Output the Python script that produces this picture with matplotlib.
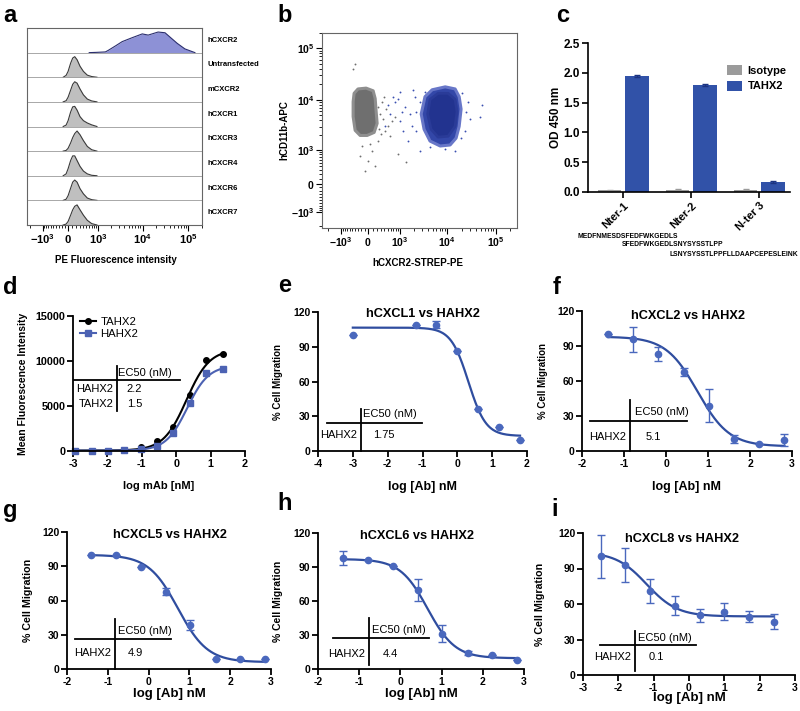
import numpy as np
import matplotlib
matplotlib.use('Agg')
import matplotlib.pyplot as plt
from matplotlib.lines import Line2D

plt.rcParams['font.family'] = ['Liberation Sans', 'DejaVu Sans']
plt.rcParams['font.weight'] = 'bold'
plt.rcParams['axes.unicode_minus'] = False
plt.rcParams['mathtext.fontset'] = 'custom'
plt.rcParams['mathtext.rm'] = 'Liberation Sans:bold'
plt.rcParams['mathtext.bf'] = 'Liberation Sans:bold'
plt.rcParams['mathtext.it'] = 'Liberation Sans:bold'

# ------------------------------------------------------------------ data
# panel a: flow histograms (relative heights at PE intensities)
A_ROWS = ['hCXCR2', 'Untransfected', 'mCXCR2', 'hCXCR1', 'hCXCR3', 'hCXCR4', 'hCXCR6', 'hCXCR7']
A_BLUE_X = [600, 900, 1500, 1760, 2600, 3570, 5960, 9850, 13300, 21900, 31000, 57100, 84300, 140000]
A_BLUE_H = [0.0, 0.01, 0.03, 0.10, 0.30, 0.47, 0.64, 0.80, 0.75, 0.88, 0.85, 0.40, 0.16, 0.0]
A_GRAY_X = [-150, -60, 0, 60, 110, 160, 220, 300, 400, 530, 700, 950]
A_GRAY_H = [
    [0, 0.08, 0.25, 0.60, 0.82, 0.88, 0.75, 0.47, 0.25, 0.09, 0.03, 0],
    [0, 0.05, 0.20, 0.50, 0.75, 0.86, 0.80, 0.55, 0.30, 0.12, 0.04, 0],
    [0, 0.06, 0.25, 0.62, 0.84, 0.86, 0.70, 0.42, 0.25, 0.15, 0.07, 0],
    [0, 0.03, 0.12, 0.35, 0.58, 0.75, 0.86, 0.70, 0.45, 0.20, 0.06, 0],
    [0, 0.08, 0.30, 0.65, 0.85, 0.85, 0.65, 0.40, 0.20, 0.08, 0.02, 0],
    [0, 0.05, 0.20, 0.52, 0.78, 0.87, 0.78, 0.50, 0.28, 0.10, 0.03, 0],
    [0, 0.04, 0.15, 0.42, 0.65, 0.80, 0.86, 0.65, 0.42, 0.20, 0.06, 0],
]

# panel b: event clouds (outlines) and sparse events
B_GRAY_OUT_X = [-430, -300, -58, 113, 160, 183, 207, 136, -29, -234, -395, -465, -465]
B_GRAY_OUT_Y = [13400, 16300, 16900, 15000, 10600, 5880, 3470, 2300, 2000, 2000, 2530, 4710, 9200]
B_BLUE_OUT_X = [3480, 4900, 9130, 14600, 17700, 19400, 17700, 15300, 11500, 7180, 4430, 3330, 2900]
B_BLUE_OUT_Y = [11500, 15700, 17900, 16300, 11500, 6600, 3020, 1770, 1280, 1220, 1540, 2650, 5300]
B_BLUE_IN_X = [4430, 6500, 10500, 14600, 16000, 14600, 10500, 6500, 4650, 3950]
B_BLUE_IN_Y = [10200, 13400, 13400, 10200, 5880, 3020, 1930, 1850, 2650, 5300]
B_GRAY_PTS_X = [283, 370, 455, 515, 650, 255, 340, 423, 776, 230, 90, 0, 160, -86, -175, 45, -234,
                585, 395, -395, -465, 930, 1390, 310, 230]
B_GRAY_PTS_Y = [5300, 4150, 6600, 3020, 3800, 2650, 9200, 2420, 4710, 1540, 960, 565, 411, 282, 1220,
                1340, 742, 1930, 11500, 49400, 39700, 826, 530, 2100, 7100]
B_BLUE_PTS_X = [776, 1025, 1330, 1690, 2160, 1900, 2300, 1025, 585, 1540, 423, 2760, 930, 23400, 27000,
                29700, 47500, 2250, 1200, 700, 20000, 25000, 19500, 9130, 4430, 2760, 3480, 1990, 1150,
                515, 52000, 14600]
B_BLUE_PTS_Y = [9200, 14300, 7400, 5300, 11500, 3020, 2420, 3800, 5300, 1540, 3020, 960, 10200, 2420,
                9200, 4150, 4710, 5880, 2420, 11500, 13400, 5880, 1770, 1060, 1160, 9200, 14300, 15700,
                5880, 7800, 7800, 960]

# panel c: ELISA
C_GROUPS = ['Nter-1', 'Nter-2', 'N-ter 3']
C_ISOTYPE = [0.03, 0.035, 0.035]
C_ISOTYPE_ERR = [0.008, 0.008, 0.008]
C_TAHX2 = [1.94, 1.79, 0.165]
C_TAHX2_ERR = [0.015, 0.015, 0.012]
C_SEQS = ['MEDFNMESDSFEDFWKGEDLS', 'SFEDFWKGEDLSNYSYSSTLPP', 'LSNYSYSSTLPPFLLDAAPCEPESLEINK']

# panel d: binding
D_X = [-2.94, -2.46, -1.98, -1.51, -1.03, -0.55, -0.08, 0.40, 0.875, 1.35]
D_TAHX2 = [30, 40, 50, 110, 410, 1110, 2700, 6220, 10110, 10740]
D_HAHX2 = [20, 30, 40, 60, 185, 550, 2040, 5370, 8700, 9070]
D_FIT_TAHX2 = [11300, 50, 0.30, 1.3]   # top, bottom, logEC50, hill
D_FIT_HAHX2 = [9500, 40, 0.32, 1.4]

# panels e-i: migration
E_X = [-3.0, -1.2, -0.6, 0.0, 0.6, 1.2, 1.8]
E_Y = [100, 109, 109, 86, 36, 21, 9.5]
E_ERR = [0, 0, 3, 0, 0, 0, 0]
E_FIT = [106.5, 13, 0.318, 1.73]
F_X = [-1.38, -0.78, -0.18, 0.42, 1.02, 1.62, 2.22, 2.82]
F_Y = [100, 95.7, 82.9, 67.4, 39, 10, 6, 9.4]
F_ERR = [0, 11, 6, 3.5, 14, 3.5, 0, 4.8]
F_FIT = [98, 4, 0.75, 1.15]
G_X = [-1.41, -0.80, -0.18, 0.43, 1.02, 1.65, 2.24, 2.86]
G_Y = [100, 100, 89.4, 67.6, 38.4, 8.4, 8.4, 8.4]
G_ERR = [0, 0, 0, 3, 4.4, 0, 0, 0]
G_FIT = [100, 6, 0.72, 1.2]
H_X = [-1.40, -0.79, -0.19, 0.42, 1.01, 1.64, 2.23, 2.84]
H_Y = [97.9, 95.9, 90.6, 70, 31.2, 14.1, 12.6, 8.2]
H_ERR = [5.9, 0, 0, 9.7, 7.5, 1.8, 0, 0]
H_FIT = [97, 9.5, 0.66, 1.3]
I_X = [-2.5, -1.8, -1.1, -0.4, 0.3, 1.0, 1.7, 2.4]
I_Y = [100.2, 93.2, 71, 58.4, 50.3, 53.6, 49.4, 45.2]
I_ERR = [18.4, 14.4, 10.5, 8, 5.7, 7.3, 4.7, 6.5]
I_FIT = [104, 49.5, -1.2, 1.0]

# ------------------------------------------------------------------ helpers
W, H = 800, 711
fig = plt.figure(figsize=(8, 7.11), dpi=100)


def px_axes(l, t, r, b):
    return fig.add_axes([l / W, 1 - b / H, (r - l) / W, (b - t) / H])


W_POS, W_NEG = 470.0, 600.0


def biex_fwd(v):
    v = np.asarray(v, dtype=float)
    return np.where(v >= 0, np.arcsinh(v / W_POS), np.arcsinh(v / W_NEG))


def biex_inv(u):
    u = np.asarray(u, dtype=float)
    return np.where(u >= 0, W_POS * np.sinh(u), W_NEG * np.sinh(u))


BIEX_TICKS = [-1000, 0, 1000, 10000, 100000]
BIEX_LABELS = [r'$-10^3$', r'$0$', r'$10^3$', r'$10^4$', r'$10^5$']
BIEX_MINOR = ([-m * 100 for m in range(1, 10)] + [-2000] + [m * 100 for m in range(1, 10)] +
              [m * 1000 for m in range(2, 10)] + [m * 10000 for m in range(2, 10)] + [200000])


def panel_label(x, y, s):
    fig.text(x / W, 1 - y / H, s, fontsize=17, fontweight='bold', ha='center', va='center')


# ------------------------------------------------------------------ panel a
axA = px_axes(27, 28, 202, 225)
axA.set_xscale('function', functions=(biex_fwd, biex_inv))
axA.set_xlim(-2340, 164000)
axA.set_ylim(0, 8)
n = len(A_ROWS)
for i, name in enumerate(A_ROWS):
    base = n - 1 - i
    if i == 0:
        xs, hs, fc, ec = A_BLUE_X, A_BLUE_H, '#8d91d6', '#2b2e6e'
    else:
        xs, hs, fc, ec = A_GRAY_X, A_GRAY_H[i - 1], '#bfbfbf', '#3a3a3a'
    top = base + np.array(hs) * 0.95
    axA.fill_between(xs, base, top, color=fc, lw=0)
    axA.plot(xs, top, color=ec, lw=0.8)
    if base > 0:
        axA.axhline(base, color='#9a9a9a', lw=0.6)
    axA.text(1.03, (base + 0.5) / n, name, transform=axA.transAxes, fontsize=5.5,
             fontweight='bold', va='center', ha='left')
axA.set_yticks([])
axA.set_xticks(BIEX_TICKS)
axA.set_xticklabels(BIEX_LABELS, fontsize=8)
axA.set_xticks(BIEX_MINOR, minor=True)
axA.tick_params(axis='x', which='major', length=4, width=0.8, pad=1.5)
axA.tick_params(axis='x', which='minor', length=2, width=0.6)
for s in axA.spines.values():
    s.set_color('#666666')
    s.set_linewidth(0.8)
axA.set_xlabel('PE Fluorescence intensity', fontsize=7, fontweight='bold')
axA.xaxis.set_label_coords(0.51, -0.152)

# ------------------------------------------------------------------ panel b
axB = px_axes(322, 33, 517, 228)
axB.set_xscale('function', functions=(biex_fwd, biex_inv))
axB.set_yscale('function', functions=(biex_fwd, biex_inv))
axB.set_xlim(-2650, 276000)
axB.set_ylim(-2160, 178000)
axB.scatter(B_GRAY_PTS_X, B_GRAY_PTS_Y, s=1.8, color='#6e6e6e', lw=0)
axB.scatter(B_BLUE_PTS_X, B_BLUE_PTS_Y, s=1.8, color='#3a4fb0', lw=0)
axB.fill(B_GRAY_OUT_X, B_GRAY_OUT_Y, facecolor='#6f6f6f', edgecolor='#8f8f8f', lw=2.2,
         joinstyle='round')
axB.fill(B_BLUE_OUT_X, B_BLUE_OUT_Y, facecolor='#3347a8', edgecolor='#6877c8', lw=2.2,
         joinstyle='round')
axB.fill(B_BLUE_IN_X, B_BLUE_IN_Y, facecolor='#22338f', edgecolor='#2a3b98', lw=2,
         joinstyle='round')
for ax_ in (axB.xaxis, axB.yaxis):
    ax_.set_ticks(BIEX_TICKS)
    ax_.set_ticklabels(BIEX_LABELS, fontsize=7.5)
    ax_.set_ticks(BIEX_MINOR, minor=True)
axB.tick_params(which='major', length=4, width=0.8, pad=1.5)
axB.tick_params(which='minor', length=2, width=0.6)
for s in axB.spines.values():
    s.set_color('#666666')
    s.set_linewidth(0.8)
axB.set_xlabel('hCXCR2-STREP-PE', fontsize=7, fontweight='bold')
axB.xaxis.set_label_coords(0.49, -0.154)
axB.set_ylabel('hCD11b-APC', fontsize=7, fontweight='bold')
axB.yaxis.set_label_coords(-0.165, 0.5)

# ------------------------------------------------------------------ panel c
axC = px_axes(588, 43, 790, 192)
gx = np.arange(len(C_GROUPS))
axC.bar(gx - 0.2, C_ISOTYPE, width=0.34, color='#9b9b9b', yerr=C_ISOTYPE_ERR,
        error_kw=dict(ecolor='#9b9b9b', capsize=2, lw=0.8), label='Isotype')
axC.bar(gx + 0.2, C_TAHX2, width=0.34, color='#3152a8', yerr=C_TAHX2_ERR,
        error_kw=dict(ecolor='#1c3380', capsize=2, lw=0.8), label='TAHX2')
axC.set_xlim(-0.52, 2.45)
axC.set_ylim(0, 2.5)
axC.set_yticks([0, 0.5, 1.0, 1.5, 2.0, 2.5])
axC.set_yticklabels(['0.0', '0.5', '1.0', '1.5', '2.0', '2.5'], fontsize=8.5)
axC.set_xticks(gx)
axC.set_xticklabels(C_GROUPS, fontsize=8, rotation=45, ha='right', rotation_mode='anchor')
axC.tick_params(length=4, width=1.2, pad=2)
for k in ('top', 'right'):
    axC.spines[k].set_visible(False)
for k in ('left', 'bottom'):
    axC.spines[k].set_linewidth(1.2)
axC.set_ylabel('OD 450 nm', fontsize=8.5, fontweight='bold')
axC.yaxis.set_label_coords(-0.129, 0.5)
axC.legend(loc='upper left', bbox_to_anchor=(0.69, 0.85), frameon=False, fontsize=8,
           handlelength=1.3, handleheight=1.0, borderpad=0, borderaxespad=0, labelspacing=0.4,
           handletextpad=0.5)
seq_pos = [(578, 236), (622, 245), (670, 254)]
for (sx, sy), seq in zip(seq_pos, C_SEQS):
    fig.text(sx / W, 1 - sy / H, seq, fontsize=4.9, fontweight='bold', ha='left', va='center')


# ------------------------------------------------------------------ dose-response helpers
def style_dr(ax, ticksize=7.5):
    for k in ('top', 'right'):
        ax.spines[k].set_visible(False)
    for k in ('left', 'bottom'):
        ax.spines[k].set_linewidth(1.3)
    ax.tick_params(length=4, width=1.3, labelsize=ticksize, pad=1.5)


def ec50_table(ax, vline, hline, ec_xy, rows, fs=8):
    tr = ax.transAxes
    ax.add_line(Line2D([vline[0], vline[0]], [vline[1], vline[2]], transform=tr, color='black',
                       lw=1.3, clip_on=False))
    ax.add_line(Line2D([hline[1], hline[2]], [hline[0], hline[0]], transform=tr, color='black',
                       lw=1.3, clip_on=False))
    ax.text(ec_xy[0], ec_xy[1], 'EC50 (nM)', transform=tr, fontsize=fs, fontweight='normal',
            ha='left', va='center')
    for (name, val, y) in rows:
        ax.text(vline[0] - 0.02, y, name, transform=tr, fontsize=fs, fontweight='normal',
                ha='right', va='center')
        ax.text(ec_xy[0] + 0.05, y, val, transform=tr, fontsize=fs, fontweight='normal',
                ha='left', va='center')


CURVE = '#2f4d9f'
MARK = '#4a68bd'


def migration_panel(rect, xlim, xticks, xs, ys, errs, fit, title, tpos, table, ylx, xly,
                    ylsize, xlsize):
    ax = px_axes(*rect)
    top, bot, c, h = fit
    xx = np.linspace(min(xs), max(xs), 200)
    ax.plot(xx, bot + (top - bot) / (1 + 10 ** ((xx - c) * h)), color=CURVE, lw=1.6, zorder=2)
    ax.errorbar(xs, ys, yerr=errs, fmt='o', ms=4.5, color=MARK, ecolor=MARK, elinewidth=1.0,
                capsize=3, capthick=1.0, clip_on=False, zorder=3)
    ax.set_xlim(*xlim)
    ax.set_ylim(0, 120)
    ax.set_xticks(xticks)
    ax.set_yticks([0, 30, 60, 90, 120])
    style_dr(ax)
    ax.text(tpos[0], tpos[1], title, transform=ax.transAxes, fontsize=9.2, fontweight='bold',
            ha='center', va='center')
    ec50_table(ax, *table)
    ax.set_ylabel('% Cell Migration', fontsize=ylsize, fontweight='bold')
    ax.yaxis.set_label_coords(ylx, 0.5)
    ax.set_xlabel('log [Ab] nM', fontsize=xlsize, fontweight='bold')
    ax.xaxis.set_label_coords(0.5, xly)
    return ax


# ------------------------------------------------------------------ panel d
axD = px_axes(73, 316, 245, 451)
for yv, fit, col, mk in ((D_TAHX2, D_FIT_TAHX2, 'black', 'o'),
                         (D_HAHX2, D_FIT_HAHX2, '#4c62b3', 's')):
    top, bot, c, h = fit
    xx = np.linspace(min(D_X), max(D_X), 200)
    axD.plot(xx, bot + (top - bot) / (1 + 10 ** ((c - xx) * h)), color=col, lw=1.5)
    axD.plot(D_X, yv, mk, color=col, ms=4, clip_on=False)
axD.set_xlim(-3, 2)
axD.set_ylim(0, 15000)
axD.set_xticks([-3, -2, -1, 0, 1, 2])
axD.set_yticks([0, 5000, 10000, 15000])
style_dr(axD, 7.8)
handles = [Line2D([], [], color='black', marker='o', ms=4, lw=1.5),
           Line2D([], [], color='#4c62b3', marker='s', ms=4, lw=1.5)]
axD.legend(handles, ['TAHX2', 'HAHX2'], loc='upper left', bbox_to_anchor=(0.04, 0.99),
           frameon=False, handlelength=1.4, borderpad=0, borderaxespad=0, labelspacing=0.15,
           handletextpad=0.4, prop=dict(size=8.2, weight='normal'))
ec50_table(axD, (0.256, 0.296, 0.63), (0.526, 0.006, 0.622), (0.262, 0.578),
           [('HAHX2', '2.2', 0.459), ('TAHX2', '1.5', 0.348)])
axD.set_ylabel('Mean Fluorescence Intensity', fontsize=7.5, fontweight='bold')
axD.yaxis.set_label_coords(-0.26, 0.5)
axD.set_xlabel('log mAb [nM]', fontsize=8, fontweight='bold')
axD.xaxis.set_label_coords(0.5, -0.222)

# ------------------------------------------------------------------ panels e-i
migration_panel((318, 312, 527, 451), (-4, 2), [-4, -3, -2, -1, 0, 1, 2], E_X, E_Y, E_ERR, E_FIT,
                'hCXCL1 vs HAHX2', (0.5, 0.985),
                ((0.206, 0.0, 0.302), (0.201, 0.043, 0.498), (0.215, 0.266),
                 [('HAHX2', '1.75', 0.115)]), -0.167, -0.216, 7, 9)
migration_panel((582, 311, 792, 451), (-2, 3), [-2, -1, 0, 1, 2, 3], F_X, F_Y, F_ERR, F_FIT,
                'hCXCL2 vs HAHX2', (0.505, 0.964),
                ((0.229, 0.0, 0.364), (0.214, 0.038, 0.5), (0.252, 0.279),
                 [('HAHX2', '5.1', 0.10)]), -0.162, -0.214, 7, 9)
migration_panel((67, 532, 271, 669), (-2, 3), [-2, -1, 0, 1, 2, 3], G_X, G_Y, G_ERR, G_FIT,
                'hCXCL5 vs HAHX2', (0.505, 0.978),
                ((0.235, 0.0, 0.365), (0.219, 0.039, 0.51), (0.25, 0.277),
                 [('HAHX2', '4.9', 0.117)]), -0.167, -0.139, 7.7, 9.5)
migration_panel((318, 533, 524, 669), (-2, 3), [-2, -1, 0, 1, 2, 3], H_X, H_Y, H_ERR, H_FIT,
                'hCXCL6 vs HAHX2', (0.48, 0.978),
                ((0.248, 0.03, 0.375), (0.228, 0.073, 0.539), (0.262, 0.287),
                 [('HAHX2', '4.4', 0.11)]), -0.17, -0.14, 7.5, 9.5)
migration_panel((583, 533, 795, 675), (-3, 3), [-3, -2, -1, 0, 1, 2, 3], I_X, I_Y, I_ERR, I_FIT,
                'hCXCL8 vs HAHX2', (0.467, 0.958),
                ((0.245, 0.028, 0.31), (0.211, 0.08, 0.533), (0.259, 0.26),
                 [('HAHX2', '0.1', 0.127)]), -0.18, -0.12, 7.7, 9.5)

# ------------------------------------------------------------------ panel letters
for (lx, ly, s) in [(10, 15, 'a'), (285, 15, 'b'), (563, 15, 'c'), (10, 288, 'd'),
                    (285, 285, 'e'), (557, 287, 'f'), (10, 510, 'g'), (285, 503, 'h'),
                    (555, 510, 'i')]:
    panel_label(lx, ly, s)

fig.savefig('out.png', dpi=100)
